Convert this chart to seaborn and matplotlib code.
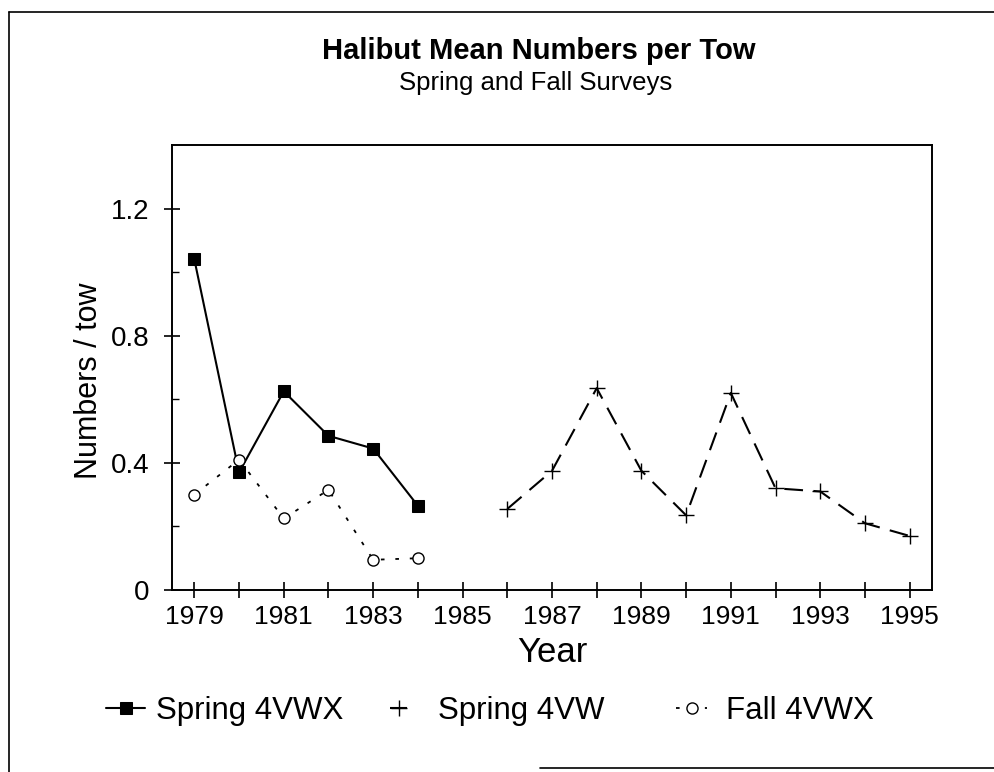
import matplotlib
matplotlib.use("Agg")
import matplotlib.pyplot as plt
import seaborn as sns
import pandas as pd
from matplotlib.lines import Line2D
from matplotlib.ticker import MultipleLocator, FixedLocator

# Survey data
spring_4vwx_years = [1979, 1980, 1981, 1982, 1983, 1984]
spring_4vwx_values = [1.04, 0.37, 0.625, 0.485, 0.445, 0.265]

spring_4vw_years = [1986, 1987, 1988, 1989, 1990, 1991, 1992, 1993, 1994, 1995]
spring_4vw_values = [0.255, 0.375, 0.635, 0.375, 0.235, 0.62, 0.32, 0.31, 0.21, 0.17]

fall_4vwx_years = [1979, 1980, 1981, 1982, 1983, 1984]
fall_4vwx_values = [0.30, 0.41, 0.225, 0.315, 0.095, 0.10]

year_ticks = list(range(1979, 1996, 2))
y_ticks = [0, 0.4, 0.8, 1.2]
y_tick_labels = ["0", "0.4", "0.8", "1.2"]

sns.set_style("ticks")
plt.rcParams["font.family"] = ["Liberation Sans", "DejaVu Sans"]
for key in ["text.color", "axes.labelcolor", "xtick.color", "ytick.color"]:
    plt.rcParams[key] = "black"

df_s1 = pd.DataFrame({"Year": spring_4vwx_years, "Value": spring_4vwx_values})
df_s2 = pd.DataFrame({"Year": spring_4vw_years, "Value": spring_4vw_values})
df_f = pd.DataFrame({"Year": fall_4vwx_years, "Value": fall_4vwx_values})

fig = plt.figure(figsize=(9.94, 7.72), dpi=100)
ax = fig.add_axes([172 / 994, 1 - 590 / 772, 760 / 994, 445 / 772])

sns.lineplot(data=df_s1, x="Year", y="Value", ax=ax, color="black",
             linewidth=1.5, marker="s", markersize=9, markerfacecolor="black",
             markeredgecolor="black", estimator=None, sort=False,
             label="Spring 4VWX")
sns.lineplot(data=df_s2, x="Year", y="Value", ax=ax, color="black",
             linewidth=1.5, linestyle=(0, (9, 5)), marker="+", markersize=12,
             markeredgewidth=1.0, markeredgecolor="black", estimator=None,
             sort=False, label="Spring 4VW")
sns.lineplot(data=df_f, x="Year", y="Value", ax=ax, color="black",
             linewidth=1.3, linestyle=(0, (2, 6)), marker="o", markersize=8,
             markerfacecolor="white", markeredgecolor="black",
             markeredgewidth=1.0, estimator=None, sort=False,
             label="Fall 4VWX")

ax.set_xlim(1978.5, 1995.5)
ax.set_ylim(0, 1.4)

ax.xaxis.set_major_locator(FixedLocator(year_ticks))
ax.xaxis.set_minor_locator(MultipleLocator(1))
ax.set_xticklabels([str(y) for y in year_ticks])
ax.set_yticks(y_ticks)
ax.set_yticklabels(y_tick_labels)
ax.yaxis.set_minor_locator(FixedLocator([0.2, 0.6, 1.0]))

ax.tick_params(axis="x", which="both", direction="inout", length=12,
               width=1.2, labelsize=19, pad=5)
ax.tick_params(axis="y", which="major", direction="inout", length=11,
               width=1.2, labelsize=20, pad=11)
ax.tick_params(axis="y", which="minor", direction="in", length=5, width=1.0)

for side in ["left", "bottom", "top", "right"]:
    ax.spines[side].set_visible(True)
    ax.spines[side].set_linewidth(1.4)
    ax.spines[side].set_color("black")

ax.set_xlabel("Year", fontsize=25)
ax.set_ylabel("Numbers / tow", fontsize=22)
ax.xaxis.set_label_coords(0.5, -0.103)
ax.yaxis.set_label_coords(-0.09, 0.47)

fig.text(539 / 994, 1 - 51 / 772, "Halibut Mean Numbers per Tow",
         ha="center", va="center", fontsize=21, fontweight="bold")
fig.text(536 / 994, 1 - 83 / 772, "Spring and Fall Surveys",
         ha="center", va="center", fontsize=18.5)

handles, labels = ax.get_legend_handles_labels()
ax.get_legend().remove()

# one legend entry per series, placed where the reference puts them
legend_x = [106, 390, 676]
legend_len = [1.25, 0.55, 1.0]
legend_gap = [0.35, 1.0, 0.6]
for h, lab, x0, hl, gap in zip(handles, labels, legend_x, legend_len, legend_gap):
    fig.legend([h], [lab], loc="center left",
               bbox_to_anchor=(x0 / 994, 1 - 711 / 772),
               frameon=False, fontsize=22.5, handlelength=hl,
               handletextpad=gap, borderaxespad=0, borderpad=0)

# scanned page frame
fig.add_artist(Line2D([9 / 994, 9 / 994], [0, 1 - 12 / 772], color="black",
                      linewidth=1.2, transform=fig.transFigure))
fig.add_artist(Line2D([9 / 994, 1], [1 - 12 / 772, 1 - 12 / 772], color="black",
                      linewidth=1.2, transform=fig.transFigure))
fig.add_artist(Line2D([540 / 994, 1], [1 - 768 / 772, 1 - 768 / 772], color="black",
                      linewidth=1.2, transform=fig.transFigure))

fig.savefig("out.png", dpi=100, facecolor="white")
plt.close(fig)
